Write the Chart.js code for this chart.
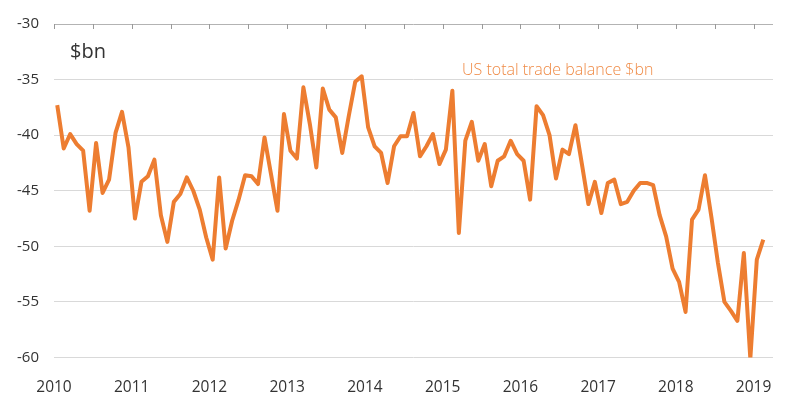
<!DOCTYPE html>
<html>
<head>
<meta charset="utf-8">
<title>US total trade balance</title>
<script src="https://cdn.jsdelivr.net/npm/chart.js@4/dist/chart.umd.min.js"></script>
<style>
  html, body { margin: 0; padding: 0; background: #ffffff; }
  #wrap { width: 800px; height: 404px; }
</style>
</head>
<body>
<div id="wrap"><canvas id="tradeChart" width="800" height="404"></canvas></div>
<script>
// year labels on the x axis (data is monthly, Jan 2010 - Feb 2019)
const yearLabels = ["2010", "2011", "2012", "2013", "2014", "2015", "2016", "2017", "2018", "2019"]

// y axis range / ticks
const yMin = -60
const yMax = -30
const yStep = 5

// US total trade balance, $bn, one value per month starting Jan 2010
const tradeBalance = [
    -37.3, -41.2, -39.9, -40.8, -41.4, -46.8, -40.7, -45.2, -44.0, -39.8, -37.9, -41.1,   // 2010
    -47.5, -44.2, -43.7, -42.2, -47.2, -49.6, -46.0, -45.3, -43.8, -45.0, -46.7, -49.2,   // 2011
    -51.2, -43.8, -50.2, -47.7, -45.8, -43.6, -43.7, -44.4, -40.2, -43.5, -46.8, -38.1,   // 2012
    -41.4, -42.1, -35.7, -39.0, -42.9, -35.8, -37.7, -38.4, -41.6, -38.3, -35.2, -34.7,   // 2013
    -39.3, -41.0, -41.6, -44.3, -41.0, -40.1, -40.1, -38.0, -41.9, -41.0, -39.9, -42.6,   // 2014
    -41.3, -36.0, -48.8, -40.5, -38.8, -42.3, -40.8, -44.6, -42.3, -41.9, -40.5, -41.7,   // 2015
    -42.3, -45.8, -37.4, -38.2, -40.0, -43.9, -41.3, -41.7, -39.1, -42.6, -46.2, -44.2,   // 2016
    -47.0, -44.3, -44.0, -46.2, -46.0, -45.0, -44.3, -44.3, -44.5, -47.2, -49.1, -52.0,   // 2017
    -53.2, -55.9, -47.6, -46.7, -43.6, -47.4, -51.5, -55.0, -55.8, -56.7, -50.6, -60.1,   // 2018
    -51.2, -49.4                                                                        // 2019
]

const seriesName = "US total trade balance $bn"
const unitLabel = "$bn"

window.onload = function() {

    let points = tradeBalance.map(function(v, i) {
        return { x: i, y: v }
    })

    // half-year tick marks hanging under the top axis line
    let topTicks = {
        id: "topTicks",
        afterDatasetsDraw: function(chart) {
            let ctx = chart.ctx
            let xs = chart.scales.x
            let top = chart.chartArea.top
            ctx.save()
            ctx.strokeStyle = "#999999"
            ctx.lineWidth = 1
            for (let m = -0.5; m <= xs.max; m += 6) {
                let px = Math.round(xs.getPixelForValue(m)) + 0.5
                ctx.beginPath()
                ctx.moveTo(px, top)
                ctx.lineTo(px, top + 5)
                ctx.stroke()
            }
            ctx.restore()
        }
    }

    // "$bn" unit and the series label inside the plot
    let labels = {
        id: "labels",
        afterDraw: function(chart) {
            let ctx = chart.ctx
            let area = chart.chartArea
            ctx.save()
            ctx.textBaseline = "alphabetic"
            ctx.textAlign = "left"
            ctx.fillStyle = "#333333"
            ctx.font = "20px 'Open Sans'"
            ctx.fillText(unitLabel, area.left + 16, area.top + 34)
            ctx.fillStyle = "#ef8a45"
            ctx.font = "300 16px 'Open Sans'"
            ctx.fillText(seriesName, area.left + 408, area.top + 51)
            ctx.restore()
        }
    }

    let ctxTrade = document.getElementById("tradeChart").getContext("2d")
    let chartTrade = new Chart(ctxTrade, {
        type: "line",
        data: {
            datasets: [{
                label: seriesName,
                data: points,
                borderColor: "#ED7D31",
                backgroundColor: "#ED7D31",
                borderWidth: 4,
                pointRadius: 0,
                tension: 0,
                fill: false,
                borderJoinStyle: "round"
            }]
        },
        options: {
            responsive: false,
            animation: false,
            devicePixelRatio: 1,
            layout: {
                padding: { top: 23, right: 27, bottom: 0, left: 0 }
            },
            plugins: {
                legend: { display: false },
                tooltip: { enabled: false }
            },
            scales: {
                x: {
                    type: "linear",
                    min: -0.5,
                    max: 110.5,
                    grid: { display: false },
                    border: { display: false },
                    afterBuildTicks: function(scale) {
                        scale.ticks = yearLabels.map(function(y, k) {
                            return { value: -0.5 + 12 * k }
                        })
                    },
                    afterFit: function(scale) {
                        scale.height = 46.5
                    },
                    ticks: {
                        autoSkip: false,
                        maxRotation: 0,
                        padding: 13,
                        color: "#333333",
                        font: { family: "'Open Sans'", size: 15.5 },
                        callback: function(value, index) {
                            return yearLabels[index]
                        }
                    }
                },
                y: {
                    min: yMin,
                    max: yMax,
                    border: { display: false },
                    grid: {
                        drawTicks: false,
                        lineWidth: 1,
                        color: function(c) {
                            return c.tick && c.tick.value === yMax ? "#b3b3b3" : "#d9d9d9"
                        }
                    },
                    afterFit: function(scale) {
                        scale.width = 54
                    },
                    ticks: {
                        stepSize: yStep,
                        padding: 15,
                        color: "#333333",
                        font: { family: "'Open Sans'", size: 15 }
                    }
                }
            }
        },
        plugins: [topTicks, labels]
    })
}
</script>
</body>
</html>
